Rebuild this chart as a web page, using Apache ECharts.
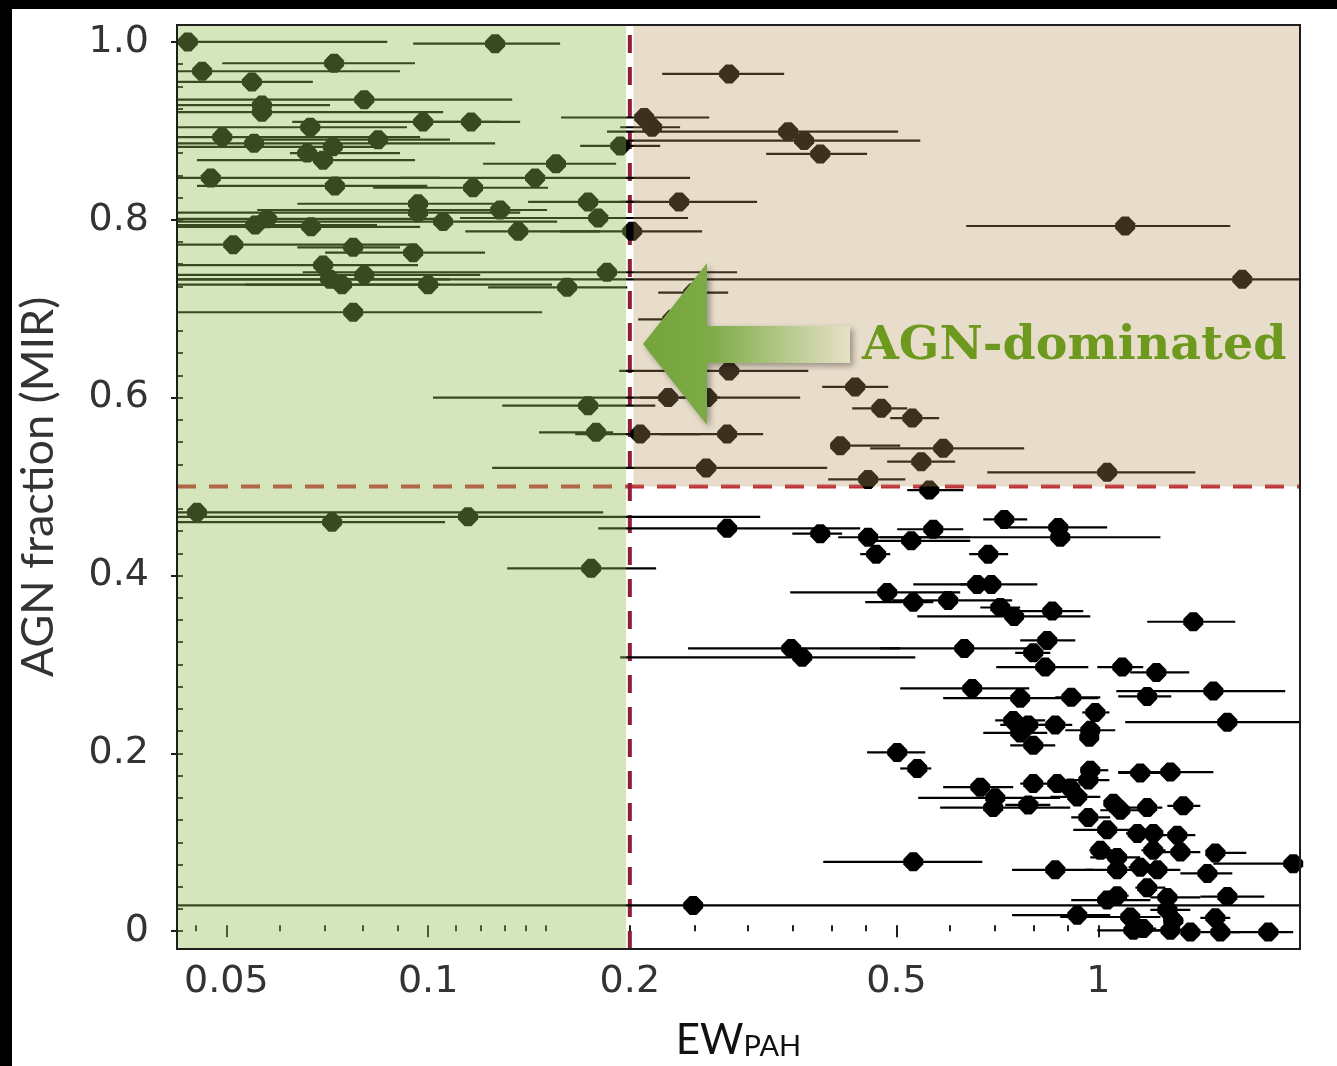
<!DOCTYPE html>
<html><head><meta charset="utf-8">
<style>html,body{margin:0;padding:0;background:#fff;}#chart{width:1337px;height:1066px;}</style>
<script src="https://cdn.jsdelivr.net/npm/echarts@6/dist/echarts.min.js"></script>
</head><body><div id="chart"></div>
<script>
// ---- data: EW_PAH (x), its lower/upper error bounds, AGN fraction (y) ----
const ewPah = [0.0438,0.1259,0.0724,0.0460,0.0546,0.0803,0.0565,0.0565,0.0983,0.1159,
0.0667,0.0493,0.0550,0.0842,0.0721,0.0660,0.0697,0.0474,0.0726,0.1167,
0.1444,0.1552,0.0966,0.0966,0.1053,0.1281,0.1733,0.2369,0.1794,0.0552,
0.0575,0.0669,0.1363,0.2016,0.0512,0.0773,0.0950,0.0697,0.0714,0.0744,
0.0803,0.1000,0.1849,0.1612,0.0773,0.1935,0.2813,0.2101,0.2159,0.3446,
0.3640,0.3847,1.097,1.640,0.2813,0.2282,0.2609,0.1733,0.1781,0.2072,
0.2794,0.2600,0.2486,0.2313,0.4338,0.4745,0.5278,0.4120,0.5869,0.5443,
1.031,0.4535,0.0452,0.0719,0.1147,0.1751,0.2794,0.3847,0.4535,0.4662,
0.5596,0.7240,0.5673,0.8715,0.5259,0.8775,0.6852,0.6598,0.6924,0.4842,
0.5296,0.5971,0.7490,0.7141,0.8537,1.386,0.8392,0.6310,0.3482,0.3616,
0.7998,0.8335,1.086,1.221,0.6485,0.7648,0.9113,1.183,1.485,0.9898,
1.558,0.7466,0.7862,0.8626,0.9729,0.7648,0.7998,0.9695,0.5012,0.5370,
0.6667,0.7018,0.6969,0.7862,0.7998,0.8686,0.9082,0.9303,0.9729,0.9663,
0.9663,1.053,1.079,1.155,1.281,1.183,1.339,1.031,1.144,1.208,
1.312,1.007,1.067,1.208,1.326,1.495,0.5296,0.8626,1.067,1.155,
1.225,1.455,1.954,1.183,1.031,1.067,1.268,1.558,0.2486,0.9303,
1.116,1.268,1.294,1.495,1.128,1.167,1.281,1.372,1.521,1.794];
const ewLo = [0.03,0.0950,0.0493,0.03,0.03,0.03,0.03,0.03,0.0627,0.0973,
0.03,0.03,0.03,0.0542,0.03,0.0622,0.0452,0.03,0.0452,0.0828,
0.0908,0.1208,0.0638,0.03,0.03,0.0556,0.1410,0.1935,0.1116,0.03,
0.03,0.03,0.1136,0.1574,0.03,0.0638,0.0702,0.03,0.03,0.0533,
0.03,0.03,0.0650,0.1229,0.03,0.1686,0.2235,0.1579,0.1935,0.1849,
0.1982,0.3195,0.6353,0.03,0.1928,0.1017,0.2072,0.1290,0.1464,0.1658,
0.2220,0.1246,0.2205,0.2058,0.3873,0.4294,0.4893,0.3981,0.4567,0.4842,
0.6829,0.3954,0.03,0.03,0.03,0.1312,0.1794,0.3495,0.4092,0.4413,
0.5187,0.6736,0.5012,0.7141,0.4413,0.4727,0.6418,0.5296,0.6223,0.3470,
0.4490,0.4928,0.5370,0.6667,0.7648,1.183,0.7648,0.4727,0.2443,0.1935,
0.7517,0.7043,0.9966,1.116,0.5064,0.5869,0.8626,1.071,1.064,0.9465,
1.097,0.7018,0.7141,0.8194,0.8928,0.6736,0.7390,0.9400,0.4519,0.5064,
0.5869,0.5387,0.5809,0.7265,0.7648,0.8194,0.8800,0.8480,0.9400,0.9082,
0.9113,1.020,1.007,1.071,1.071,1.097,1.268,0.9177,1.100,1.170,
1.238,0.9700,0.9729,1.160,1.238,1.455,0.3887,0.7438,0.9563,1.110,
1.116,1.326,1.485,1.136,0.9113,1.030,1.196,1.420,0.03,0.7438,
0.8775,1.196,1.250,1.420,0.9966,1.120,1.196,1.330,1.420,1.558];
const ewHi = [0.0869,0.1574,0.0956,0.0908,0.0673,0.1335,0.0714,0.1053,0.1281,0.1372,
0.0930,0.0973,0.1259,0.1078,0.0848,0.0908,0.0956,0.1042,0.0997,0.1510,
0.2460,0.1908,0.1281,0.1372,0.1558,0.1505,0.2072,0.3097,0.2443,0.0839,
0.1042,0.0973,0.1806,0.2564,0.0940,0.0908,0.1216,0.0966,0.1078,0.1042,
0.1196,0.1531,0.2891,0.1982,0.1480,0.2220,0.3399,0.2627,0.2377,0.5029,
0.5425,0.4519,1.574,3.0,0.3692,0.2728,0.3591,0.2183,0.1888,0.2547,
0.3162,0.3940,0.2804,0.2450,0.4859,0.5187,0.5789,0.5064,0.7753,0.6116,
1.396,0.5153,0.1825,0.1060,0.3130,0.2189,0.4413,0.4148,0.6441,0.4893,
0.6288,0.7834,0.6288,1.031,0.6441,1.238,0.7337,0.7141,0.8110,0.6223,
0.5673,0.7438,0.9729,0.7648,0.9497,1.601,0.9240,0.8110,0.5064,0.5333,
0.8480,0.9663,1.167,1.367,0.7888,1.000,1.007,1.285,1.901,1.039,
3.0,0.8335,0.8480,0.9145,1.060,0.8392,0.8626,1.000,0.5519,0.5634,
0.7466,0.8775,0.9082,0.8480,0.8276,0.9240,0.9400,1.007,1.035,1.039,
1.042,1.090,1.155,1.326,1.485,1.246,1.420,1.155,1.190,1.250,
1.396,1.050,1.155,1.260,1.420,1.663,0.6713,0.9830,1.196,1.200,
1.326,1.585,3.0,1.259,1.196,1.110,1.420,1.769,3.0,1.042,
1.238,1.372,1.340,1.574,1.238,1.220,1.420,1.420,1.629,1.954];
const agnFrac = [1.000,0.998,0.976,0.967,0.955,0.935,0.929,0.921,0.910,0.910,
0.904,0.893,0.886,0.890,0.882,0.875,0.867,0.847,0.838,0.836,
0.847,0.863,0.818,0.808,0.798,0.811,0.820,0.820,0.802,0.794,
0.801,0.792,0.787,0.787,0.772,0.769,0.763,0.749,0.733,0.727,
0.738,0.727,0.741,0.724,0.696,0.883,0.964,0.915,0.904,0.899,
0.889,0.874,0.793,0.733,0.630,0.600,0.600,0.591,0.561,0.559,
0.559,0.521,0.718,0.688,0.612,0.588,0.577,0.546,0.543,0.528,
0.516,0.508,0.471,0.460,0.466,0.408,0.453,0.447,0.443,0.424,
0.496,0.463,0.452,0.454,0.439,0.443,0.424,0.390,0.390,0.381,
0.370,0.372,0.354,0.364,0.360,0.348,0.327,0.318,0.318,0.308,
0.313,0.297,0.297,0.291,0.273,0.262,0.263,0.264,0.270,0.246,
0.235,0.237,0.232,0.232,0.226,0.223,0.209,0.218,0.201,0.183,
0.162,0.150,0.139,0.142,0.166,0.166,0.161,0.151,0.181,0.170,
0.128,0.144,0.136,0.178,0.179,0.139,0.141,0.114,0.110,0.110,
0.108,0.091,0.083,0.091,0.089,0.088,0.078,0.069,0.069,0.072,
0.069,0.065,0.076,0.049,0.035,0.040,0.038,0.039,0.029,0.018,
0.016,0.024,0.012,0.015,0.001,0.003,0.001,-0.001,-0.001,-0.001];

// ---- axes / ticks ----
const xRange = [0.0422, 2.0];
const yRange = [-0.02, 1.019];
const xMajorTicks = [0.05, 0.1, 0.2, 0.5, 1];
const xMinorTicks = [0.045,0.06,0.07,0.08,0.09,0.11,0.12,0.13,0.14,0.15,0.25,0.3,0.35,0.4,0.45,0.6,0.7,0.8,0.9,1.1,1.2,1.3,1.4,1.5];
const yMajorTicks = [0, 0.2, 0.4, 0.6, 0.8, 1.0];
const yMinorTicks = [0.025,0.05,0.075,0.1,0.125,0.15,0.175,0.225,0.25,0.275,0.3,0.325,0.35,0.375,0.425,0.45,0.475,0.525,0.55,0.575,0.625,0.65,0.675,0.725,0.75,0.775,0.825,0.85,0.875,0.925,0.95,0.975];
const ewThreshold = 0.2;
const agnThreshold = 0.5;
// shaded regions: [xFrom, xTo, yFrom, yTo]
const regionBounds = [[0.0422, 0.1975, -0.02, 1.019], [0.2025, 2.0, 0.5, 1.019]];
const regionFills = ['rgba(149,190,82,0.39)', 'rgba(185,148,92,0.325)'];

const chart = echarts.init(document.getElementById('chart'), null, {renderer: 'canvas'});

const pointData = ewPah.map((x, i) => [x, agnFrac[i]]);
const barData = ewPah.map((x, i) => [ewLo[i], ewHi[i], agnFrac[i]]);
const fmtX = v => String(parseFloat(Number(v).toPrecision(3)));
const fmtY = v => (Math.abs(v) < 1e-9 ? '0' : Number(v).toFixed(1));
const tickColor = '#1e1e1e';

const option = {
  animation: false,
  backgroundColor: '#fff',
  grid: {left: 177, top: 25, width: 1123, height: 924, show: true, borderColor: '#1e1e1e', borderWidth: 2, backgroundColor: 'transparent', z: 20},
  xAxis: [
    {type: 'log', logBase: 10, min: xRange[0], max: xRange[1], position: 'bottom',
     axisLine: {show: false}, splitLine: {show: false},
     axisTick: {show: true, customValues: xMajorTicks, inside: false, length: 6, lineStyle: {color: tickColor, width: 2}},
     axisLabel: {customValues: xMajorTicks, formatter: fmtX, margin: 14, fontFamily: 'DejaVu Sans', fontSize: 38, color: '#333'},
     name: '{a|EW}{b|PAH}', nameLocation: 'middle', nameGap: 68,
     nameTextStyle: {rich: {
       a: {fontFamily: 'Lato', fontSize: 42, color: '#111', lineHeight: 44, verticalAlign: 'bottom'},
       b: {fontFamily: 'Lato', fontSize: 29, color: '#111', lineHeight: 27, verticalAlign: 'bottom'}}}
    },
    {type: 'log', logBase: 10, min: xRange[0], max: xRange[1], position: 'bottom',
     axisLine: {show: false}, splitLine: {show: false},
     axisTick: {show: true, customValues: xMajorTicks.concat(xMinorTicks), inside: true, length: 6, lineStyle: {color: tickColor, width: 2}},
     axisLabel: {show: false}
    }
  ],
  yAxis: [
    {type: 'value', min: yRange[0], max: yRange[1], position: 'left',
     axisLine: {show: false}, splitLine: {show: false},
     axisTick: {show: true, customValues: yMajorTicks, inside: false, length: 6, lineStyle: {color: tickColor, width: 2}},
     axisLabel: {customValues: yMajorTicks, formatter: fmtY, margin: 28, fontFamily: 'DejaVu Sans', fontSize: 38, color: '#333'},
     name: 'AGN fraction (MIR)', nameLocation: 'middle', nameGap: 116, nameRotate: 90,
     nameTextStyle: {fontFamily: 'Lato', fontSize: 45, color: '#333'}
    },
    {type: 'value', min: yRange[0], max: yRange[1], position: 'left',
     axisLine: {show: false}, splitLine: {show: false},
     axisTick: {show: true, customValues: yMajorTicks.concat(yMinorTicks), inside: true, length: 6, lineStyle: {color: tickColor, width: 2}},
     axisLabel: {show: false}
    }
  ],
  series: [
    {
      type: 'custom', name: 'thresholds', z: 1, silent: true, xAxisIndex: 0, yAxisIndex: 0,
      data: [[ewThreshold, agnThreshold]],
      encode: {x: 0, y: 1},
      renderItem: function (params, api) {
        const xt = api.value(0), yt = api.value(1);
        const v0 = api.coord([xt, yRange[0]]), v1 = api.coord([xt, yRange[1]]);
        const h0 = api.coord([xRange[0], yt]), h1 = api.coord([xRange[1], yt]);
        return {type: 'group', children: [
          {type: 'line', shape: {x1: h0[0], y1: h0[1], x2: h1[0], y2: h1[1]},
           style: {stroke: '#c0303c', lineWidth: 4, lineDash: [19, 13]}},
          {type: 'line', shape: {x1: v0[0], y1: v0[1], x2: v1[0], y2: v1[1]},
           style: {stroke: '#8e1f38', lineWidth: 4, lineDash: [18, 14]}}
        ]};
      }
    },
    {
      type: 'custom', name: 'errorBars', z: 2, silent: true, xAxisIndex: 0, yAxisIndex: 0,
      data: barData, encode: {x: [0, 1], y: 2},
      renderItem: function (params, api) {
        const y = api.value(2);
        const a = api.coord([api.value(0), y]);
        const b = api.coord([api.value(1), y]);
        const cs = params.coordSys;
        const x0 = Math.max(cs.x, Math.min(a[0], b[0]));
        const x1 = Math.min(cs.x + cs.width, Math.max(a[0], b[0]));
        return {type: 'line', shape: {x1: x0, y1: a[1], x2: x1, y2: a[1]}, style: {stroke: '#000', lineWidth: 2.2}};
      }
    },
    {
      type: 'scatter', name: 'points', z: 3, xAxisIndex: 0, yAxisIndex: 0,
      data: pointData,
      symbol: 'path://M3.3,0 L6.7,0 L10,3.6 L10,6.4 L6.7,10 L3.3,10 L0,6.4 L0,3.6 Z',
      symbolSize: [20, 19],
      itemStyle: {color: '#000', opacity: 1}
    },
    {
      type: 'custom', name: 'regions', z: 5, silent: true, xAxisIndex: 0, yAxisIndex: 0,
      data: regionBounds, encode: {x: [0, 1], y: [2, 3]},
      renderItem: function (params, api) {
        const p0 = api.coord([api.value(0), api.value(3)]);
        const p1 = api.coord([api.value(1), api.value(2)]);
        return {type: 'rect', shape: {x: p0[0], y: p0[1], width: p1[0] - p0[0], height: p1[1] - p0[1]},
                style: {fill: regionFills[params.dataIndex]}};
      }
    }
  ],
  graphic: [
    {type: 'rect', left: 0, top: 0, z: 200, shape: {width: 1337, height: 9}, style: {fill: '#000'}},
    {type: 'rect', left: 0, top: 0, z: 200, shape: {width: 12, height: 1066}, style: {fill: '#000'}},
    {type: 'polygon', z: 100,
     shape: {points: [[643, 344], [707, 263], [707, 326], [850, 326], [850, 363], [707, 363], [707, 425]]},
     style: {
       fill: new echarts.graphic.LinearGradient(0, 0, 1, 0, [
         {offset: 0, color: '#74a43c'}, {offset: 0.32, color: '#7dab46'}, {offset: 1, color: '#e6e1c6'}]),
       shadowBlur: 6, shadowColor: 'rgba(0,0,0,0.35)', shadowOffsetX: 3, shadowOffsetY: 3
     }},
    {type: 'text', z: 100, x: 862, y: 347,
     style: {text: 'AGN-dominated', font: 'bold 47.5px "DejaVu Serif"', fill: '#6e991f', verticalAlign: 'middle', align: 'left'}}
  ]
};
chart.setOption(option);
</script></body></html>
